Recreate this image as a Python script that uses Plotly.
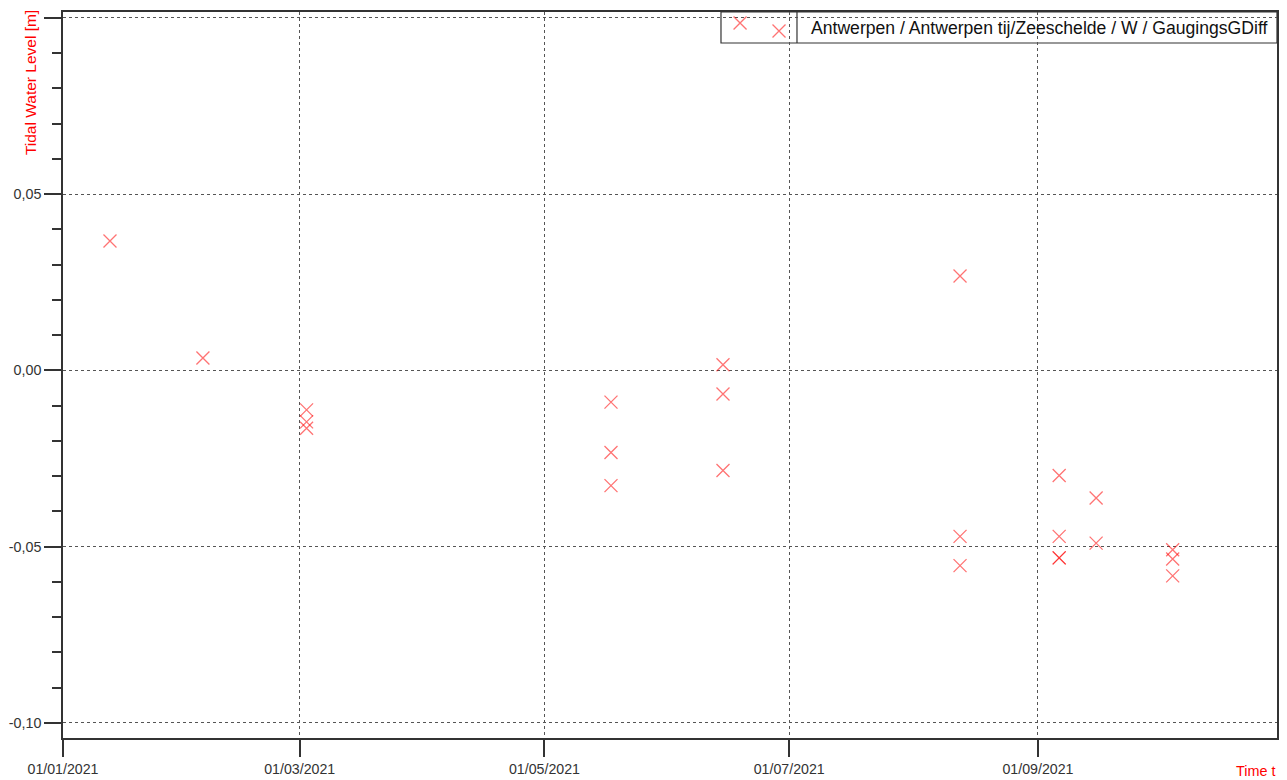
import plotly.graph_objects as go

# ---- data ----
dates = [
    "2021-01-12 17:00",
    "2021-02-04 21:00",
    "2021-03-02 17:00", "2021-03-02 17:00", "2021-03-02 17:00",
    "2021-05-17 14:00", "2021-05-17 14:00", "2021-05-17 14:00",
    "2021-06-14 12:00", "2021-06-14 12:00", "2021-06-14 12:00",
    "2021-08-12 14:00", "2021-08-12 14:00", "2021-08-12 14:00",
    "2021-09-06 07:00", "2021-09-06 07:00", "2021-09-06 07:00", "2021-09-06 07:00",
    "2021-09-15 12:00", "2021-09-15 12:00",
    "2021-10-04 14:00", "2021-10-04 14:00", "2021-10-04 14:00",
]
values = [
    0.0367,
    0.0035,
    -0.0112, -0.0146, -0.0164,
    -0.0090, -0.0233, -0.0327,
    0.0016, -0.0067, -0.0284,
    0.0268, -0.0471, -0.0554,
    -0.0298, -0.0471, -0.0532, -0.0532,
    -0.0362, -0.0490,
    -0.0509, -0.0535, -0.0583,
]
series_name = "Antwerpen / Antwerpen tij/Zeeschelde / W / GaugingsGDiff"
x_tickvals = ["2021-01-01", "2021-03-01", "2021-05-01", "2021-07-01", "2021-09-01"]
x_ticktext = ["01/01/2021", "01/03/2021", "01/05/2021", "01/07/2021", "01/09/2021"]
y_tickvals = [-0.10, -0.05, 0.0, 0.05, 0.10]
y_ticktext = ["-0,10", "-0,05", "0,00", "0,05", ""]

# legend glyph positions (overlay axes, 0..1)
legend_marker_x = [0.5577, 0.5898]
legend_marker_y = [0.9848, 0.9738]

MARK = dict(symbol="x-thin", size=13, line=dict(color="rgba(255,0,0,0.55)", width=1.3))
AX = "#333333"
FONT = "Liberation Sans, Arial, sans-serif"

fig = go.Figure()
fig.add_trace(go.Scatter(x=dates, y=values, mode="markers", marker=MARK,
                         name=series_name, showlegend=False))
fig.add_trace(go.Scatter(x=legend_marker_x, y=legend_marker_y, mode="markers",
                         marker=MARK, xaxis="x2", yaxis="y2", showlegend=False,
                         hoverinfo="skip"))

fig.update_layout(
    template="none",
    width=1279, height=772,
    margin=dict(l=55, r=10, t=4, b=42, autoexpand=False),
    paper_bgcolor="white", plot_bgcolor="white",
    font=dict(family=FONT, size=14, color=AX),
    xaxis=dict(
        automargin=False,
        range=["2021-01-01 00:00", "2021-10-30 14:00"],
        tickvals=x_tickvals, ticktext=x_ticktext,
        ticks="outside", ticklen=17, tickwidth=1.5, tickcolor=AX,
        showline=True, linecolor=AX, linewidth=1.5, mirror=True,
        showgrid=True, gridcolor="#555555", gridwidth=1, griddash="3px,3px",
        zeroline=False, tickfont=dict(size=14.2, color=AX),
    ),
    yaxis=dict(
        automargin=False,
        range=[-0.1043, 0.1017],
        tickvals=y_tickvals, ticktext=y_ticktext,
        ticks="outside", ticklen=17, tickwidth=1.5, tickcolor=AX,
        minor=dict(tick0=0, dtick=0.01, ticks="outside", ticklen=9, tickwidth=1.5,
                   tickcolor=AX, showgrid=False),
        showline=True, linecolor=AX, linewidth=1.5, mirror=True,
        showgrid=True, gridcolor="#555555", gridwidth=1, griddash="3px,3px",
        zeroline=False, tickfont=dict(size=14.3, color=AX),
    ),
    xaxis2=dict(range=[0, 1], overlaying="x", visible=False, fixedrange=True),
    yaxis2=dict(range=[0, 1], overlaying="y", visible=False, fixedrange=True),
    showlegend=False,
)

# legend box
fig.add_shape(type="rect", xref="paper", yref="paper", x0=0.542, x1=1.0, y0=0.9573, y1=1.0,
              line=dict(color=AX, width=1.2), fillcolor="white", layer="between")
fig.add_shape(type="line", xref="paper", yref="paper", x0=0.6046, x1=0.6046, y0=0.9573, y1=1.0,
              line=dict(color=AX, width=1.2), layer="between")
fig.add_annotation(xref="paper", yref="paper", x=0.6145, y=0.9786, xanchor="left", yanchor="middle",
                   text=series_name, showarrow=False, font=dict(size=17.6, color="#111111", family=FONT))

# axis titles
fig.add_annotation(xref="paper", yref="paper", x=-0.0272, y=1.006, xanchor="center", yanchor="top",
                   text="Tidal Water Level [m]", textangle=-90, showarrow=False,
                   font=dict(size=15.5, color="#ff0000", family=FONT))
fig.add_annotation(xref="paper", yref="paper", x=1.0, y=-0.045, xanchor="right", yanchor="middle",
                   text="Time t", showarrow=False, font=dict(size=14.4, color="#ff0000", family=FONT))

fig.write_html("out.html")
